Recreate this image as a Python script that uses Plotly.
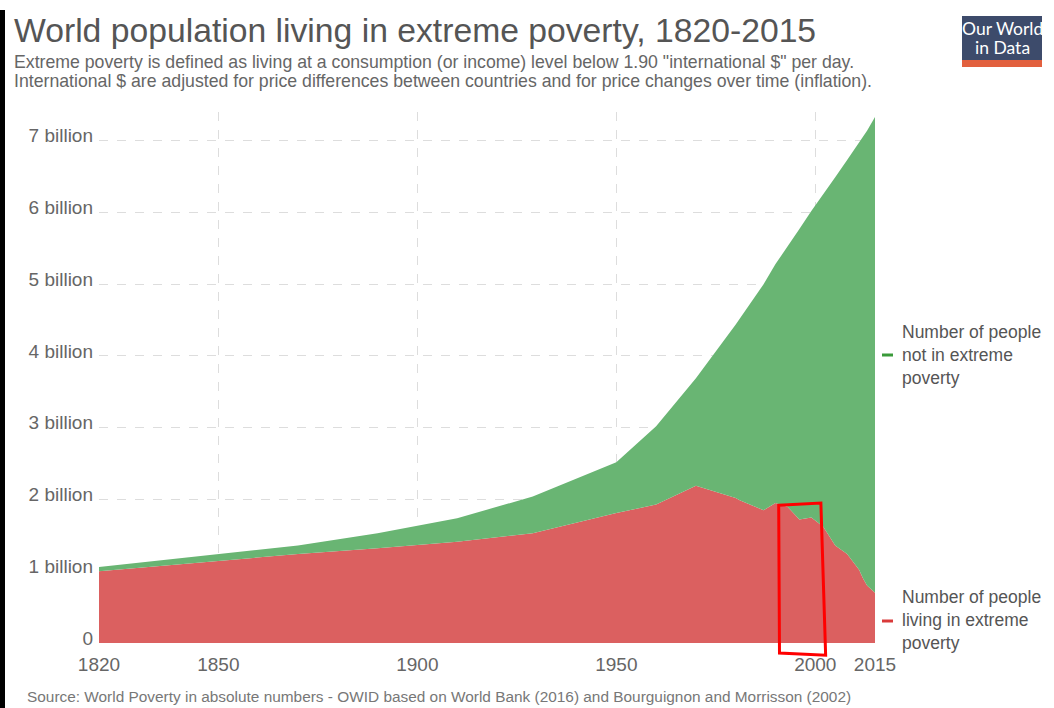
import plotly.graph_objects as go

years = [1820, 1850, 1870, 1890, 1910, 1929, 1950, 1960, 1970, 1980, 1981, 1984, 1987,
         1990, 1993, 1996, 1999, 2002, 2005, 2008, 2010, 2011, 2012, 2013, 2015]
# billions
in_poverty = [1.00, 1.15, 1.24, 1.32, 1.41, 1.53, 1.81, 1.93, 2.19, 2.02, 1.99, 1.92, 1.85,
              1.95, 1.90, 1.72, 1.75, 1.62, 1.36, 1.24, 1.10, 1.02, 0.90, 0.80, 0.70]
total_pop = [1.06, 1.24, 1.36, 1.53, 1.74, 2.04, 2.52, 3.02, 3.69, 4.44, 4.52, 4.76, 5.00,
             5.28, 5.52, 5.77, 6.02, 6.25, 6.49, 6.73, 6.90, 6.98, 7.06, 7.14, 7.33]

y_ticks = [0, 1, 2, 3, 4, 5, 6, 7]
y_tick_text = ["0", "1 billion", "2 billion", "3 billion", "4 billion", "5 billion",
               "6 billion", "7 billion"]
x_ticks = [1820, 1850, 1900, 1950, 2000, 2015]

# hand-drawn red highlight box (years, billions)
box_x = [1990.8, 2001.4, 2002.6, 1991.0]
box_y = [1.92, 1.95, -0.17, -0.14]

Y_MAX = 7.4
GREEN = "#69b573"
RED = "#db6060"
FONT = "Liberation Sans, Arial, sans-serif"

W, H = 1054, 708
L, R, T, B = 99, 179, 112, 65
pw, ph = W - L - R, H - T - B


def px(x):
    return (x - L) / pw


def py(y):
    return (H - B - y) / ph


fig = go.Figure()
fig.add_trace(go.Scatter(x=years, y=in_poverty, mode="lines", line=dict(width=0, color=RED),
                         fill="tozeroy", fillcolor=RED, hoverinfo="skip", showlegend=False))
fig.add_trace(go.Scatter(x=years, y=total_pop, mode="lines", line=dict(width=0, color=GREEN),
                         fill="tonexty", fillcolor=GREEN, hoverinfo="skip", showlegend=False))

fig.update_layout(
    width=W, height=H, autosize=False,
    margin=dict(l=L, r=R, t=T, b=B),
    paper_bgcolor="white", plot_bgcolor="white",
    font=dict(family=FONT, color="#666"),
    xaxis=dict(range=[1820, 2015], tickvals=x_ticks, ticktext=[str(v) for v in x_ticks],
               showgrid=True, gridcolor="#dddddd", griddash="dash", gridwidth=1,
               zeroline=False, showline=False, ticks="", ticklabelstandoff=8,
               tickfont=dict(size=19, color="#666"), layer="below traces"),
    yaxis=dict(range=[0, Y_MAX], tickvals=y_ticks, ticktext=y_tick_text,
               showgrid=True, gridcolor="#dddddd", griddash="dash", gridwidth=1,
               zeroline=False, showline=False, ticks="", ticklabelstandoff=5,
               ticklabelshift=-5,
               tickfont=dict(size=19, color="#666"), layer="below traces"),
)

ann = []
ann.append(dict(text="World population living in extreme poverty, 1820-2015",
                x=px(12), y=py(30), xref="paper", yref="paper", xanchor="left", yanchor="middle",
                showarrow=False, font=dict(size=33.7, color="#555", family=FONT)))
ann.append(dict(text='Extreme poverty is defined as living at a consumption (or income) level below 1.90 "international $" per day.',
                x=px(12), y=py(62), xref="paper", yref="paper", xanchor="left", yanchor="middle",
                showarrow=False, font=dict(size=17.7, color="#666", family=FONT)))
ann.append(dict(text="International $ are adjusted for price differences between countries and for price changes over time (inflation).",
                x=px(12), y=py(81), xref="paper", yref="paper", xanchor="left", yanchor="middle",
                showarrow=False, font=dict(size=17.7, color="#666", family=FONT)))
ann.append(dict(text="Source: World Poverty in absolute numbers - OWID based on World Bank (2016) and Bourguignon and Morrisson (2002)",
                x=px(25), y=py(696), xref="paper", yref="paper", xanchor="left", yanchor="middle",
                showarrow=False, font=dict(size=15.4, color="#777", family=FONT)))
ann.append(dict(text="Number of people<br>not in extreme<br>poverty",
                x=px(900), y=py(355), xref="paper", yref="paper", xanchor="left", yanchor="middle",
                align="left", showarrow=False, font=dict(size=17.5, color="#555", family=FONT)))
ann.append(dict(text="Number of people<br>living in extreme<br>poverty",
                x=px(900), y=py(620), xref="paper", yref="paper", xanchor="left", yanchor="middle",
                align="left", showarrow=False, font=dict(size=17.5, color="#555", family=FONT)))
# logo text
ann.append(dict(text="Our World", x=px(1002), y=py(29), xref="paper", yref="paper",
                xanchor="center", yanchor="middle", showarrow=False,
                font=dict(size=17.5, color="white", family="Lato, sans-serif")))
ann.append(dict(text="in Data", x=px(1002), y=py(47), xref="paper", yref="paper",
                xanchor="center", yanchor="middle", showarrow=False,
                font=dict(size=17.5, color="white", family="Lato, sans-serif")))

shapes = []
# legend dashes
shapes.append(dict(type="line", xref="paper", yref="paper", x0=px(882), x1=px(893),
                   y0=py(355), y1=py(355), line=dict(color="#3a9a3a", width=3)))
shapes.append(dict(type="line", xref="paper", yref="paper", x0=px(882), x1=px(893),
                   y0=py(621), y1=py(621), line=dict(color="#d93a3a", width=3)))
# logo
shapes.append(dict(type="rect", xref="paper", yref="paper", x0=px(962), x1=px(1042),
                   y0=py(60), y1=py(16), fillcolor="#3d4b6b", line=dict(width=0)))
shapes.append(dict(type="rect", xref="paper", yref="paper", x0=px(962), x1=px(1042),
                   y0=py(67), y1=py(60), fillcolor="#e2603e", line=dict(width=0)))
# left black edge
shapes.append(dict(type="rect", xref="paper", yref="paper", x0=px(0), x1=px(5),
                   y0=py(708), y1=py(10), fillcolor="black", line=dict(width=0)))
# red highlight box: x in data years, y converted to paper fraction so it is not clipped
pts = [f"{bx} {by / Y_MAX:.5f}" for bx, by in zip(box_x, box_y)]
path = "M " + " L ".join(pts) + " Z"
shapes.append(dict(type="path", xref="x", yref="paper", path=path,
                   line=dict(color="#ff0000", width=3), fillcolor="rgba(0,0,0,0)"))

fig.update_layout(annotations=ann, shapes=shapes)
fig.write_html("out.html")
